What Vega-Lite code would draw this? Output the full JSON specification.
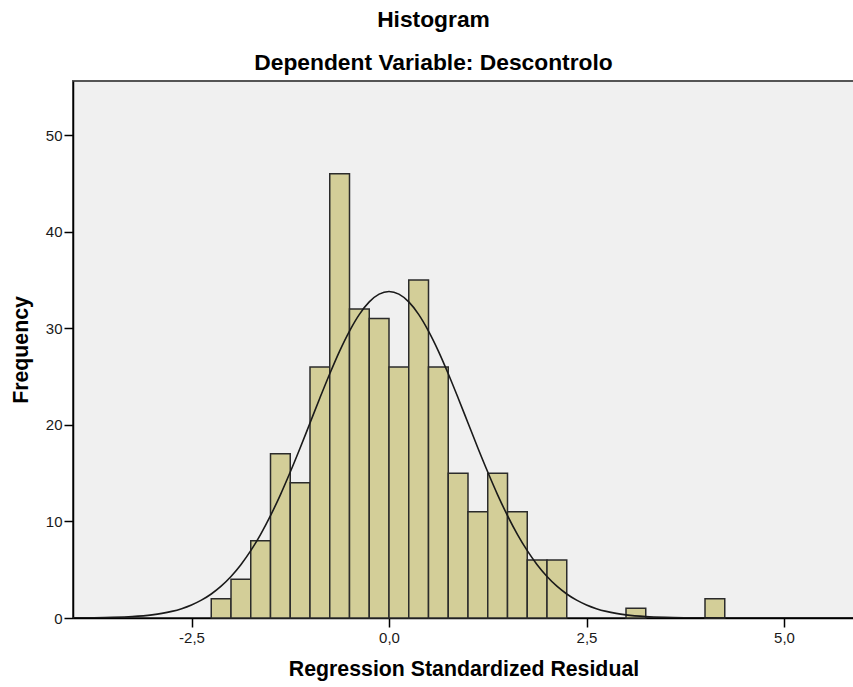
{
  "$schema": "https://vega.github.io/schema/vega-lite/v6.json",
  "autosize": {"type": "none"},
  "padding": {"left": 73, "top": 81, "right": 0, "bottom": 70},
  "width": 781,
  "height": 537,
  "background": "white",
  "title": {
    "text": ["Histogram", "Dependent Variable: Descontrolo"],
    "font": "Liberation Sans",
    "fontSize": 22.8,
    "fontWeight": "bold",
    "color": "#000000",
    "lineHeight": 43,
    "anchor": "middle",
    "dx": -30,
    "offset": 6
  },
  "config": {
    "view": {"fill": "#f0f0f0", "stroke": "#555555", "strokeWidth": 2},
    "axis": {
      "labelFont": "Liberation Sans",
      "labelFontSize": 15,
      "labelColor": "#1a1a1a",
      "titleFont": "Liberation Sans",
      "titleFontSize": 21.3,
      "titleFontWeight": "bold",
      "titleColor": "#000000",
      "domainColor": "#000000",
      "domainWidth": 1.5,
      "tickColor": "#000000",
      "tickWidth": 1.5,
      "tickSize": 9,
      "grid": false
    }
  },
  "datasets": {
    "bins": [
      {"bin_start": -2.25, "bin_end": -2.0, "count": 2},
      {"bin_start": -2.0, "bin_end": -1.75, "count": 4},
      {"bin_start": -1.75, "bin_end": -1.5, "count": 8},
      {"bin_start": -1.5, "bin_end": -1.25, "count": 17},
      {"bin_start": -1.25, "bin_end": -1.0, "count": 14},
      {"bin_start": -1.0, "bin_end": -0.75, "count": 26},
      {"bin_start": -0.75, "bin_end": -0.5, "count": 46},
      {"bin_start": -0.5, "bin_end": -0.25, "count": 32},
      {"bin_start": -0.25, "bin_end": 0.0, "count": 31},
      {"bin_start": 0.0, "bin_end": 0.25, "count": 26},
      {"bin_start": 0.25, "bin_end": 0.5, "count": 35},
      {"bin_start": 0.5, "bin_end": 0.75, "count": 26},
      {"bin_start": 0.75, "bin_end": 1.0, "count": 15},
      {"bin_start": 1.0, "bin_end": 1.25, "count": 11},
      {"bin_start": 1.25, "bin_end": 1.5, "count": 15},
      {"bin_start": 1.5, "bin_end": 1.75, "count": 11},
      {"bin_start": 1.75, "bin_end": 2.0, "count": 6},
      {"bin_start": 2.0, "bin_end": 2.25, "count": 6},
      {"bin_start": 3.0, "bin_end": 3.25, "count": 1},
      {"bin_start": 4.0, "bin_end": 4.25, "count": 2}
    ],
    "curve": [
      {"x": -4.0, "y": 0.009},
      {"x": -3.75, "y": 0.024},
      {"x": -3.5, "y": 0.061},
      {"x": -3.25, "y": 0.146},
      {"x": -3.0, "y": 0.327},
      {"x": -2.875, "y": 0.477},
      {"x": -2.75, "y": 0.685},
      {"x": -2.625, "y": 0.969},
      {"x": -2.5, "y": 1.349},
      {"x": -2.375, "y": 1.846},
      {"x": -2.25, "y": 2.487},
      {"x": -2.125, "y": 3.296},
      {"x": -2.0, "y": 4.30},
      {"x": -1.875, "y": 5.519},
      {"x": -1.75, "y": 6.97},
      {"x": -1.625, "y": 8.665},
      {"x": -1.5, "y": 10.60},
      {"x": -1.375, "y": 12.75},
      {"x": -1.25, "y": 15.11},
      {"x": -1.125, "y": 17.60},
      {"x": -1.0, "y": 20.19},
      {"x": -0.875, "y": 22.78},
      {"x": -0.75, "y": 25.29},
      {"x": -0.625, "y": 27.64},
      {"x": -0.5, "y": 29.71},
      {"x": -0.375, "y": 31.44},
      {"x": -0.25, "y": 32.73},
      {"x": -0.125, "y": 33.53},
      {"x": 0.0, "y": 33.8},
      {"x": 0.125, "y": 33.53},
      {"x": 0.25, "y": 32.73},
      {"x": 0.375, "y": 31.44},
      {"x": 0.5, "y": 29.71},
      {"x": 0.625, "y": 27.64},
      {"x": 0.75, "y": 25.29},
      {"x": 0.875, "y": 22.78},
      {"x": 1.0, "y": 20.19},
      {"x": 1.125, "y": 17.60},
      {"x": 1.25, "y": 15.11},
      {"x": 1.375, "y": 12.75},
      {"x": 1.5, "y": 10.60},
      {"x": 1.625, "y": 8.665},
      {"x": 1.75, "y": 6.97},
      {"x": 1.875, "y": 5.519},
      {"x": 2.0, "y": 4.30},
      {"x": 2.125, "y": 3.296},
      {"x": 2.25, "y": 2.487},
      {"x": 2.375, "y": 1.846},
      {"x": 2.5, "y": 1.349},
      {"x": 2.625, "y": 0.969},
      {"x": 2.75, "y": 0.685},
      {"x": 2.875, "y": 0.477},
      {"x": 3.0, "y": 0.327},
      {"x": 3.25, "y": 0.146},
      {"x": 3.5, "y": 0.061},
      {"x": 3.75, "y": 0.024},
      {"x": 4.0, "y": 0.009},
      {"x": 4.5, "y": 0.001},
      {"x": 5.0, "y": 0.0},
      {"x": 6.0, "y": 0.0}
    ]
  },
  "layer": [
    {
      "data": {"name": "bins"},
      "mark": {"type": "bar", "fill": "#d3ce98", "stroke": "#2b2b2b", "strokeWidth": 1.5},
      "encoding": {
        "x": {
          "field": "bin_start",
          "type": "quantitative",
          "scale": {"domain": [-4.0, 5.886], "nice": false, "zero": false},
          "axis": {
            "title": "Regression Standardized Residual",
            "values": [-2.5, 0, 2.5, 5.0],
            "labelExpr": "replace(replace(format(datum.value, '.1f'), '.', ','), '\u2212', '-')",
            "labelPadding": 3,
            "titlePadding": 13
          }
        },
        "x2": {"field": "bin_end"},
        "y": {
          "field": "count",
          "type": "quantitative",
          "scale": {"domain": [0, 55.6], "nice": false},
          "axis": {
            "title": "Frequency",
            "values": [0, 10, 20, 30, 40, 50],
            "labelPadding": 2,
            "titlePadding": 14
          }
        },
        "y2": {"datum": 0}
      }
    },
    {
      "data": {"name": "curve"},
      "mark": {"type": "line", "color": "#1a1a1a", "strokeWidth": 1.6, "interpolate": "monotone", "clip": true},
      "encoding": {
        "x": {"field": "x", "type": "quantitative"},
        "y": {"field": "y", "type": "quantitative"}
      }
    }
  ]
}
